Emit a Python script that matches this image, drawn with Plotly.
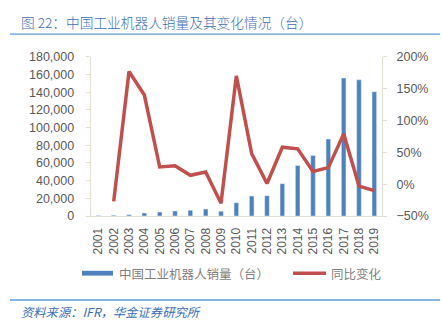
import plotly.graph_objects as go

years = [str(y) for y in range(2001, 2020)]
sales = [700, 1000, 1450, 3500, 4460, 5770, 6580, 7880, 5530, 14980, 22580, 22990,
         36560, 57100, 68560, 87000, 156000, 154000, 140500]
growth = [None, -0.27, 1.77, 1.40, 0.27, 0.29, 0.14, 0.19, -0.30, 1.70, 0.48, 0.01,
          0.58, 0.555, 0.20, 0.26, 0.79, -0.03, -0.10]

left_ticks = list(range(0, 180001, 20000))
right_ticks = [-0.5, 0.0, 0.5, 1.0, 1.5, 2.0]

title_text = "图 22：中国工业机器人销量及其变化情况（台）"
source_text = "资料来源：IFR，华金证券研究所"
bar_name = "中国工业机器人销量（台）"
line_name = "同比变化"

BLUE = "#4F81BD"
RED = "#C0504D"
AXIS = "#E3E0D3"
TXT = "#595959"
FONT = "Liberation Sans, Arial, Noto Sans CJK SC"
CJK = "Noto Sans CJK SC, Liberation Sans"

W, H = 442, 330
x0, x1 = 90.7 / W, 382.0 / W
yb, yt = (H - 218.3) / H, (H - 52.0) / H

fig = go.Figure()
fig.add_trace(go.Bar(x=years, y=sales, name=bar_name, marker_color=BLUE,
                     width=0.3, yaxis="y", showlegend=False))
fig.add_trace(go.Scatter(x=years, y=growth, name=line_name, mode="lines",
                         line=dict(color=RED, width=3.5), yaxis="y2",
                         showlegend=False, connectgaps=False))

fig.update_layout(
    width=W, height=H,
    margin=dict(l=0, r=0, t=0, b=0),
    paper_bgcolor="white", plot_bgcolor="white",
    font=dict(family=FONT, size=12, color=TXT),
    bargap=0.7,
    xaxis=dict(domain=[x0, x1], type="category", tickangle=-90,
               showline=True, linecolor=AXIS, linewidth=1, ticks="",
               tickfont=dict(size=12, color=TXT), showgrid=False,
               ticklabelstandoff=6),
    yaxis=dict(domain=[yb, yt], range=[0, 180000], tickvals=left_ticks,
               tickformat=",", showline=True, linecolor=AXIS, linewidth=1,
               ticks="outside", ticklen=4, tickcolor=AXIS, showgrid=False,
               zeroline=False, tickfont=dict(size=12.5, color=TXT),
               ticklabelstandoff=9),
    yaxis2=dict(overlaying="y", side="right", range=[-0.5, 2.0],
                tickvals=right_ticks, tickformat=".0%", showline=True,
                linecolor=AXIS, linewidth=1, ticks="outside", ticklen=4,
                tickcolor=AXIS, showgrid=False, zeroline=False,
                tickfont=dict(size=12.5, color=TXT), anchor="x",
                ticklabelstandoff=7),
)

# title and source lines
fig.add_shape(type="line", xref="paper", yref="paper",
              x0=10 / W, x1=440 / W, y0=(H - 28.3) / H, y1=(H - 28.3) / H,
              line=dict(color="#5B9BD5", width=1.3))
fig.add_shape(type="line", xref="paper", yref="paper",
              x0=10 / W, x1=440 / W, y0=(H - 306) / H, y1=(H - 306) / H,
              line=dict(color="#5B9BD5", width=1.3))
fig.add_annotation(text=title_text, xref="paper", yref="paper",
                   x=19 / W, y=(H - 15.5) / H, xanchor="left", yanchor="middle",
                   showarrow=False,
                   font=dict(family=CJK, size=13.7, color="#3C6EB4", weight=300))
fig.add_annotation(text="<i>" + source_text + "</i>", xref="paper", yref="paper",
                   x=19 / W, y=(H - 318.5) / H, xanchor="left", yanchor="middle",
                   showarrow=False, font=dict(family=CJK, size=12.3, color="#3C6EB4"))

# legend
ly = (H - 278) / H
fig.add_shape(type="rect", xref="paper", yref="paper",
              x0=82 / W, x1=113 / W, y0=(H - 280.5) / H, y1=(H - 275.5) / H,
              fillcolor=BLUE, line=dict(width=0))
fig.add_annotation(text=bar_name, xref="paper", yref="paper",
                   x=117 / W, y=ly, xanchor="left", yanchor="middle",
                   showarrow=False, font=dict(family=CJK, size=12.5, color="#7F7F7F"))
fig.add_shape(type="line", xref="paper", yref="paper",
              x0=293 / W, x1=326 / W, y0=ly, y1=ly,
              line=dict(color=RED, width=3.5))
fig.add_annotation(text=line_name, xref="paper", yref="paper",
                   x=329 / W, y=ly, xanchor="left", yanchor="middle",
                   showarrow=False, font=dict(family=CJK, size=12.5, color="#7F7F7F"))

fig.write_html("out.html")
